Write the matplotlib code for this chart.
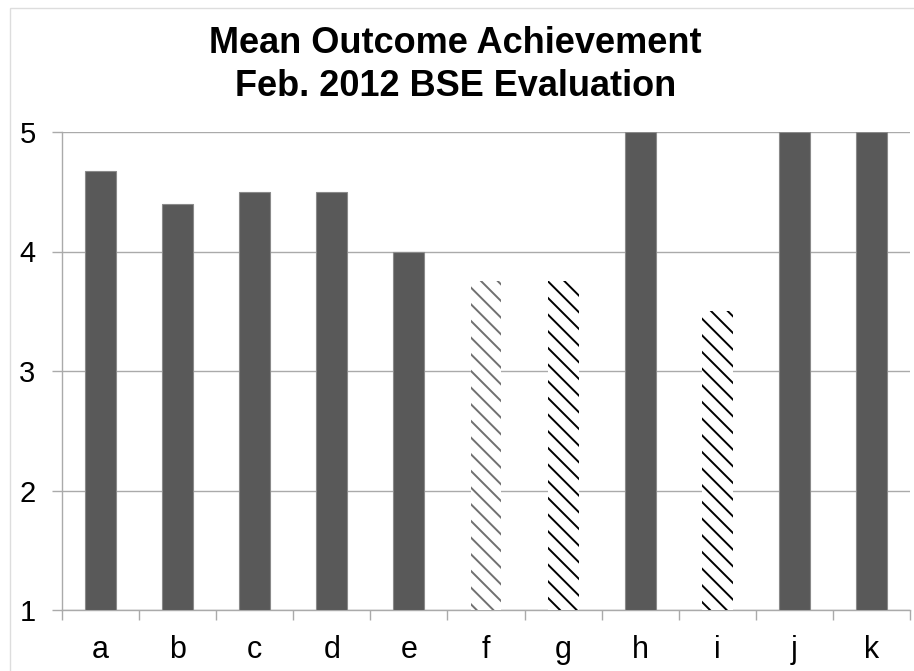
import matplotlib
matplotlib.use("Agg")
import matplotlib.pyplot as plt
from matplotlib.patches import Rectangle

plt.rcParams['font.family'] = ['Liberation Sans', 'DejaVu Sans']
plt.rcParams['hatch.linewidth'] = 1.4

categories = ['a', 'b', 'c', 'd', 'e', 'f', 'g', 'h', 'i', 'j', 'k']
values = [4.67, 4.4, 4.5, 4.5, 4.0, 3.75, 3.75, 5.0, 3.5, 5.0, 5.0]
hatched = ['f', 'g', 'i']
hatch_colors = {'f': '#707070', 'g': '#000000', 'i': '#000000'}

fig = plt.figure(figsize=(9.14, 6.71), dpi=100)
fig.patches.append(Rectangle((10 / 914, -0.01), 1.0, (671 - 8) / 671 + 0.01,
                             transform=fig.transFigure, fill=False,
                             edgecolor='#dddddd', linewidth=1))
ax = fig.add_axes([62 / 914, 1 - 610 / 671, (910 - 62) / 914, (610 - 132) / 671])

x = list(range(len(categories)))
for i, (cat, v) in enumerate(zip(categories, values)):
    if cat in hatched:
        ax.bar(i, v - 1, bottom=1, width=0.4, color='white',
               edgecolor=hatch_colors[cat], hatch='\\\\', linewidth=0, zorder=3)
    else:
        ax.bar(i, v - 1, bottom=1, width=0.4, color='#595959',
               edgecolor='#8a8a8a', linewidth=0.8, zorder=3)

ax.set_xlim(-0.5, len(categories) - 0.5)
ax.set_ylim(1, 5)
ax.set_yticks([1, 2, 3, 4, 5])
ax.set_xticks(x)
ax.set_xticklabels(categories)
ax.set_xticks([i - 0.5 for i in range(len(categories) + 1)], minor=True)
ax.tick_params(axis='x', which='major', length=0, labelsize=22, pad=18)
ax.tick_params(axis='x', which='minor', length=7, width=1, color='#aaaaaa', direction='out')
ax.tick_params(axis='y', length=7, width=1, color='#aaaaaa', labelsize=21, pad=12)
ax.yaxis.grid(True, color='#aaaaaa', linewidth=1)
ax.set_axisbelow(True)
for s in ['top', 'right']:
    ax.spines[s].set_visible(False)
for s in ['left', 'bottom']:
    ax.spines[s].set_color('#aaaaaa')
    ax.spines[s].set_linewidth(1)

fig.text(0.498, 1 - 65 / 671, 'Mean Outcome Achievement\nFeb. 2012 BSE Evaluation',
         ha='center', va='center', fontsize=26, fontweight='bold', linespacing=1.3)

fig.savefig('out.png', dpi=100)
